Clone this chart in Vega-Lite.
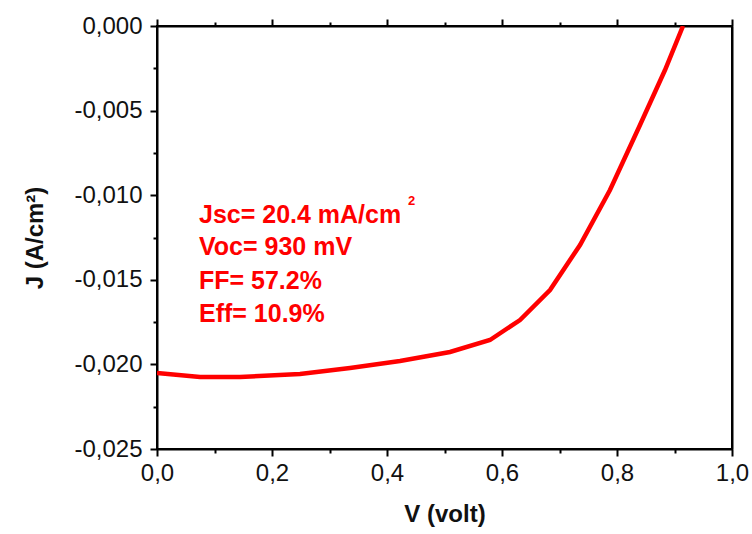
{
  "$schema": "https://vega.github.io/schema/vega-lite/v6.json",
  "autosize": "none",
  "padding": {"left": 157, "top": 26, "right": 20, "bottom": 85},
  "width": 575,
  "height": 423,
  "background": "white",
  "config": {
    "view": {"stroke": "black", "strokeWidth": 2},
    "font": "Liberation Sans",
    "axis": {
      "domainColor": "black", "domainWidth": 2,
      "tickColor": "black", "tickWidth": 2,
      "grid": false,
      "labelFont": "Liberation Sans", "labelFontSize": 24, "labelColor": "#111",
      "titleFont": "Liberation Sans", "titleFontSize": 24, "titleFontWeight": "bold", "titleColor": "#111"
    }
  },
  "datasets": {
    "curve": [
      {"V": 0.0, "J": -0.020508},
      {"V": 0.0748, "J": -0.020745},
      {"V": 0.1443, "J": -0.020745},
      {"V": 0.2487, "J": -0.020567},
      {"V": 0.3357, "J": -0.020213},
      {"V": 0.4226, "J": -0.019799},
      {"V": 0.5096, "J": -0.019267},
      {"V": 0.5791, "J": -0.018558},
      {"V": 0.6313, "J": -0.017376},
      {"V": 0.6835, "J": -0.015603},
      {"V": 0.7357, "J": -0.012943},
      {"V": 0.7878, "J": -0.009693},
      {"V": 0.84, "J": -0.005851},
      {"V": 0.8835, "J": -0.0026},
      {"V": 0.9148, "J": 0.0}
    ],
    "notes": [
      {"V": 0.073, "J": -0.011643, "label": "Jsc= 20.4 mA/cm"},
      {"V": 0.073, "J": -0.013534, "label": "Voc= 930 mV"},
      {"V": 0.073, "J": -0.015544, "label": "FF= 57.2%"},
      {"V": 0.073, "J": -0.017494, "label": "Eff= 10.9%"}
    ],
    "sup": [
      {"V": 0.4365, "J": -0.01060, "label": "2"}
    ]
  },
  "resolve": {"axis": {"x": "independent", "y": "independent"}},
  "layer": [
    {
      "data": {"name": "curve"},
      "mark": {"type": "line", "color": "#ff0000", "strokeWidth": 4.5, "clip": true},
      "encoding": {
        "x": {"field": "V", "type": "quantitative", "scale": {"domain": [0, 1], "nice": false},
          "axis": {"orient": "bottom", "title": "V (volt)", "values": [0, 0.2, 0.4, 0.6, 0.8, 1.0], "tickSize": 7, "labelPadding": 5, "titlePadding": 17,
            "labelExpr": "replace(format(datum.value, '.1f'), '.', ',')", "labelFlush": false, "labelOverlap": false}},
        "y": {"field": "J", "type": "quantitative", "scale": {"domain": [-0.025, 0], "nice": false, "zero": false},
          "axis": {"orient": "left", "title": "J (A/cm²)", "values": [-0.025, -0.02, -0.015, -0.01, -0.005, 0], "tickSize": 7, "labelPadding": 8, "titlePadding": 26,
            "labelExpr": "replace(replace(format(datum.value, '.3f'), '.', ','), '\u2212', '-')", "labelFlush": false, "labelOverlap": false}}
      }
    },
    {
      "data": {"name": "curve"},
      "mark": {"type": "line", "strokeOpacity": 0},
      "encoding": {
        "x": {"field": "V", "type": "quantitative",
          "axis": {"orient": "bottom", "title": null, "labels": false, "domain": false, "values": [0.1, 0.3, 0.5, 0.7, 0.9], "tickSize": 4}},
        "y": {"field": "J", "type": "quantitative",
          "axis": {"orient": "left", "title": null, "labels": false, "domain": false, "values": [-0.0225, -0.0175, -0.0125, -0.0075, -0.0025], "tickSize": 4}}
      }
    },
    {
      "data": {"name": "curve"},
      "mark": {"type": "line", "strokeOpacity": 0},
      "encoding": {
        "x": {"field": "V", "type": "quantitative",
          "axis": {"orient": "top", "title": null, "labels": false, "values": [0, 0.2, 0.4, 0.6, 0.8, 1.0], "tickSize": 7}},
        "y": {"field": "J", "type": "quantitative",
          "axis": {"orient": "right", "title": null, "labels": false, "ticks": false}}
      }
    },
    {
      "data": {"name": "curve"},
      "mark": {"type": "line", "strokeOpacity": 0},
      "encoding": {
        "x": {"field": "V", "type": "quantitative",
          "axis": {"orient": "top", "title": null, "labels": false, "domain": false, "values": [0.1, 0.3, 0.5, 0.7, 0.9], "tickSize": 4}},
        "y": {"field": "J", "type": "quantitative", "axis": null}
      }
    },
    {
      "data": {"name": "notes"},
      "mark": {"type": "text", "align": "left", "baseline": "alphabetic", "color": "#ff0000", "fontWeight": "bold", "fontSize": 25, "font": "Liberation Sans"},
      "encoding": {
        "x": {"field": "V", "type": "quantitative", "axis": null},
        "y": {"field": "J", "type": "quantitative", "axis": null},
        "text": {"field": "label"}
      }
    },
    {
      "data": {"name": "sup"},
      "mark": {"type": "text", "align": "left", "baseline": "alphabetic", "color": "#ff0000", "fontWeight": "bold", "fontSize": 13, "font": "Liberation Sans"},
      "encoding": {
        "x": {"field": "V", "type": "quantitative", "axis": null},
        "y": {"field": "J", "type": "quantitative", "axis": null},
        "text": {"field": "label"}
      }
    }
  ]
}
